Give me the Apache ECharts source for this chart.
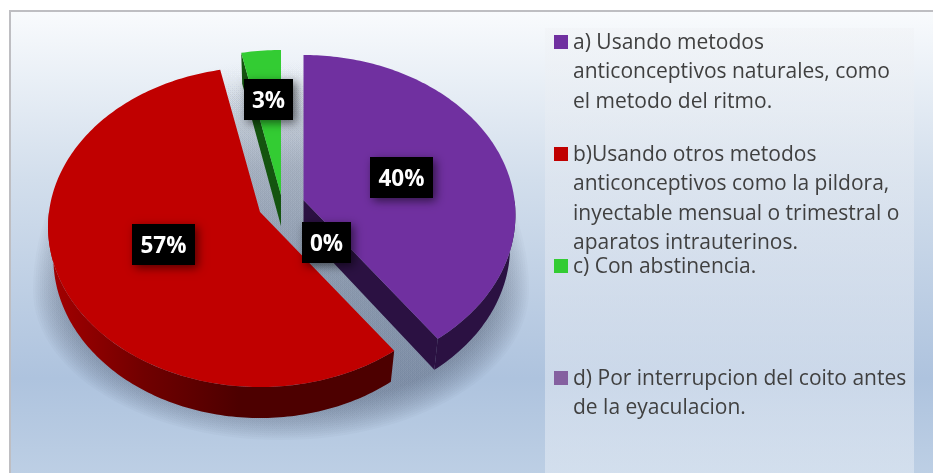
<!DOCTYPE html>
<html><head><meta charset="utf-8">
<style>html,body{margin:0;padding:0;background:#fff}#c{width:933px;height:473px}</style>
<script src="https://cdn.jsdelivr.net/npm/echarts@6/dist/echarts.min.js"></script>
</head><body><div id="c"></div>
<script>
// ---- data ----
const categories = ['a','b','c','d'];
const percents = [40.0, 56.7, 3.3, 0];
const legendLabels = [
  'a) Usando metodos\nanticonceptivos naturales, como\nel metodo del ritmo.',
  'b)Usando otros metodos\nanticonceptivos como la pildora,\ninyectable mensual o trimestral o\naparatos intrauterinos.',
  'c) Con abstinencia.',
  'd) Por interrupcion del coito antes\nde la eyaculacion.'
];
// ---- styles and layout ----
const topColors = ['#7030a0','#c00000','#33cc33','#8560a0'];
const wallColors = ['#2b1142','#4d0000','#14540f','#2b1142'];
const apexes = [[303.5,200],[260,212],[281,195],[281,205]];
const labelCenters = [[401.5,177.5],[163.5,244.5],[268.5,99.5],[326.5,242.5]];
const labelWidths = [63,63,49,49];
const RX = 211, RY = 158.6, K = 0.0938, DEPTH = 31, SHRINK = 0.975;

function project(ax, ay, deg, r) {
  const t = deg * Math.PI / 180, u = Math.sin(t) * r, v = -Math.cos(t) * r;
  const s = 1 / (1 - K * v);
  return [ax + RX * u * s, ay + RY * v * s];
}
function lower(p, ax) { return [ax + (p[0] - ax) * SHRINK, p[1] + DEPTH]; }
function arc(ax, ay, a0, a1) {
  const pts = [], n = Math.max(2, Math.ceil(Math.abs(a1 - a0)));
  for (let i = 0; i <= n; i++) pts.push(project(ax, ay, a0 + (a1 - a0) * i / n, 1));
  return pts;
}
const total = percents.reduce((a, b) => a + b, 0);
const spans = []; let acc = 0;
percents.forEach(v => { const a = acc / total * 360; acc += v; spans.push([a, acc / total * 360]); });

function sliceShapes(i) {
  const [a0, a1] = spans[i], [ax, ay] = apexes[i];
  if (a1 <= a0) return [];
  const rim = arc(ax, ay, a0, a1), apexTop = [ax, ay], apexLow = [ax, ay + DEPTH];
  const out = [];
  const wall = (pts, fill) => out.push({ type: 'polygon', shape: { points: pts }, style: { fill } });
  const first = rim[0], last = rim[rim.length - 1];
  // the cut edge that faces the viewer
  if (i === 2) wall([first, apexTop, apexLow, lower(first, ax)], wallColors[i]);
  if (i === 0) wall([apexTop, last, lower(last, ax), apexLow], wallColors[i]);
  // outer curved wall (front half only)
  const fa0 = Math.max(a0, 90), fa1 = Math.min(a1, 270);
  if (fa1 > fa0) {
    const front = arc(ax, ay, fa0, fa1);
    const low = front.map(p => lower(p, ax)).reverse();
    const fill = i === 1 ? new echarts.graphic.LinearGradient(1, 0, 0, 0, [
      { offset: 0, color: '#4d0000' }, { offset: 0.45, color: '#4d0000' },
      { offset: 0.72, color: '#700000' }, { offset: 1, color: '#a50000' }]) : wallColors[i];
    wall(front.concat(low), fill);
  }
  out.push({ type: 'polygon', shape: { points: [apexTop].concat(rim) },
    style: { fill: topColors[i] } });
  return out;
}

// soft floor shadow: stacked translucent outlines that emulate a blur
function softShadow() {
  const layers = 16, out = [];
  for (let l = 0; l < layers; l++) {
    const inset = l * 2.2, pts = [];
    for (let a = 0; a < 360; a += 3) {
      const t = a * Math.PI / 180, c = Math.cos(t);
      const ry = (c > 0 ? 232 : 150) - inset;
      pts.push([281 + (248 - inset) * Math.sin(t), 290 - ry * c]);
    }
    const f = 1 / layers;
    out.push({ type: 'polygon', shape: { points: pts }, style: {
      fill: new echarts.graphic.LinearGradient(0, 50, 0, 440, [
        { offset: 0, color: 'rgba(60,70,90,0)' },
        { offset: 0.3, color: `rgba(60,70,90,${0.36 * f})` },
        { offset: 0.6, color: `rgba(60,70,90,${0.5 * f})` },
        { offset: 1, color: `rgba(60,70,90,${0.55 * f})` }], true) } });
  }
  return out;
}

function labelBox(i) {
  const [cx, cy] = labelCenters[i], w = labelWidths[i], h = 41;
  return {
    type: 'group', children: [
      { type: 'rect', shape: { x: cx - w / 2, y: cy - h / 2, width: w, height: h },
        style: { fill: '#000', shadowBlur: 9, shadowOffsetX: 3, shadowOffsetY: 3, shadowColor: 'rgba(0,0,0,0.55)' } },
      { type: 'text', style: { x: cx, y: cy + 2, text: Math.round(percents[i]) + '%', fill: '#fff', align: 'center',
          verticalAlign: 'middle', font: '700 22.5px "Open Sans", sans-serif' } }
    ]
  };
}

const option = {
  animation: false,
  backgroundColor: '#ffffff',
  graphic: { elements: [
    { type: 'rect', z: -10, shape: { x: 10, y: 11, width: 930, height: 470 },
      style: { stroke: '#bebec2', lineWidth: 2,
        fill: new echarts.graphic.LinearGradient(0, 0, 0, 1, [
          { offset: 0, color: '#f9fbfd' }, { offset: 0.36, color: '#d2deec' },
          { offset: 0.78, color: '#aec3de' }, { offset: 1, color: '#bed0e5' }]) } },
    { type: 'rect', z: -9, shape: { x: 545, y: 28, width: 369, height: 445 },
      style: { fill: new echarts.graphic.LinearGradient(0, 0, 0, 1, [
          { offset: 0, color: 'rgba(238,240,243,0.35)' }, { offset: 0.5, color: 'rgba(232,236,243,0.45)' },
          { offset: 1, color: 'rgba(225,233,243,0.6)' }]) } }
  ].concat(categories.flatMap((c, i) => [
    { type: 'rect', z: 5, shape: { x: 554, y: 35 + 112 * i, width: 14, height: 14 }, style: { fill: topColors[i] } },
    { type: 'text', z: 5, style: { x: 573, y: 28.5 + 112 * i, text: legendLabels[i], fill: '#404040',
        font: '21px "Open Sans", sans-serif', lineHeight: 29.3, verticalAlign: 'top', align: 'left' } }
  ])) },
  series: [{
    type: 'custom', coordinateSystem: 'none', silent: true, clip: false,
    data: categories.map((c, i) => ({ name: c, value: percents[i] })),
    renderItem: function (params) {
      const i = params.dataIndex;
      if (i === 0) {
        return { type: 'group', children: softShadow().concat(
          sliceShapes(2), sliceShapes(0), sliceShapes(1),
          [3, 1, 0, 2].map(labelBox)) };
      }
      return { type: 'group', children: [] };
    }
  }]
};
echarts.init(document.getElementById('c'), null, { renderer: 'canvas' }).setOption(option);
</script></body></html>
